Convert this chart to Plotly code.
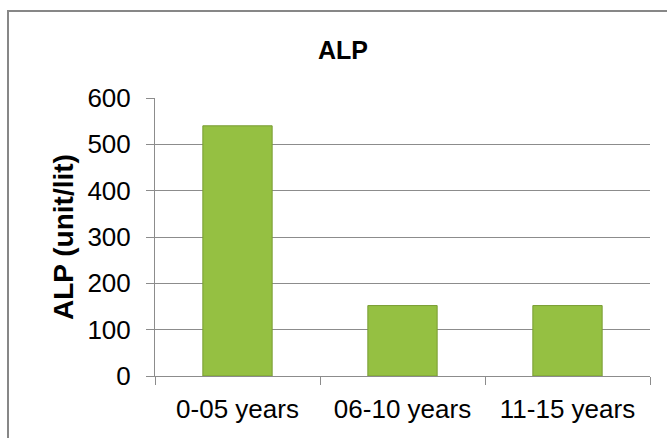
import plotly.graph_objects as go

# ALP levels by age group
age_groups = ["0-05 years", "06-10 years", "11-15 years"]
alp_values = [540, 152, 152]
y_ticks = [0, 100, 200, 300, 400, 500, 600]

W, H = 667, 438
m_l, m_r, m_t, m_b = 155, 17, 98, 62
plot_w = W - m_l - m_r
plot_h = H - m_t - m_b

fig = go.Figure(
    go.Bar(
        x=age_groups,
        y=alp_values,
        width=0.42,
        marker=dict(color="#95C042", line=dict(color="#789C32", width=1)),
    )
)

grid = "#8C8C8C"
fig.update_layout(
    width=W,
    height=H,
    margin=dict(l=m_l, r=m_r, t=m_t, b=m_b),
    paper_bgcolor="white",
    plot_bgcolor="white",
    font=dict(family="Liberation Sans, Arial, sans-serif", color="black", size=26),
    showlegend=False,
    title=dict(
        text="<b>ALP</b>",
        x=343 / W,
        xanchor="center",
        xref="container",
        y=1 - 50 / H,
        yanchor="middle",
        yref="container",
        font=dict(size=25, color="black"),
    ),
    xaxis=dict(
        type="category",
        showline=True,
        linecolor=grid,
        linewidth=1,
        ticks="outside",
        tickson="boundaries",
        ticklen=8,
        tickcolor=grid,
        showgrid=False,
        tickfont=dict(size=26),
        ticklabelstandoff=10,
    ),
    yaxis=dict(
        range=[0, 600],
        tickvals=y_ticks,
        showline=True,
        linecolor=grid,
        linewidth=1,
        ticks="outside",
        ticklen=8,
        tickcolor=grid,
        showgrid=True,
        gridcolor=grid,
        gridwidth=1,
        zeroline=False,
        tickfont=dict(size=26),
        ticklabelstandoff=10,
    ),
)

# y-axis title, placed close to the tick labels
fig.add_annotation(
    text="<b>ALP (unit/lit)</b>",
    xref="paper",
    yref="paper",
    x=(63 - m_l) / plot_w,
    y=0.5,
    xanchor="center",
    yanchor="middle",
    textangle=-90,
    showarrow=False,
    font=dict(size=28, color="black"),
)

# chart frame
fig.add_shape(
    type="rect",
    xref="paper",
    yref="paper",
    x0=(8 - m_l) / plot_w,
    x1=(W + 20 - m_l) / plot_w,
    y0=-(m_b + 20) / plot_h,
    y1=(m_t + plot_h - 11) / plot_h,
    line=dict(color="#878787", width=2),
    fillcolor="rgba(0,0,0,0)",
    layer="below",
)

fig.write_html("out.html")
